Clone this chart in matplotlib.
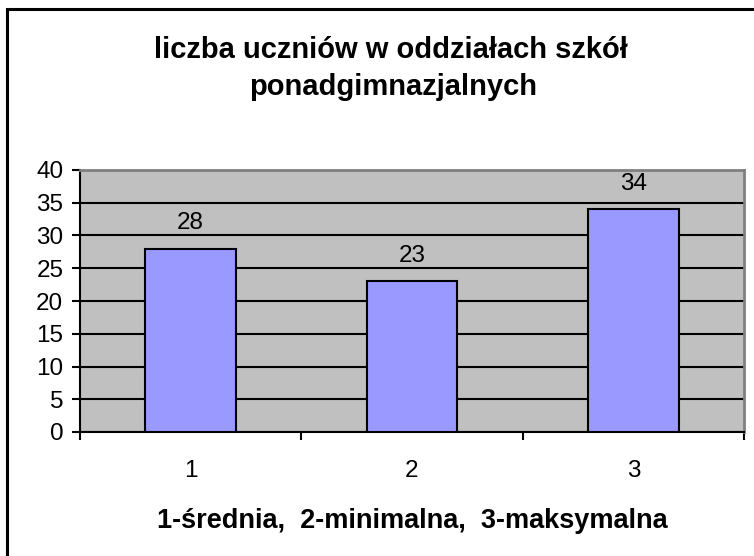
import matplotlib.pyplot as plt
from matplotlib.patches import Rectangle

categories = ['1', '2', '3']
values = [28, 23, 34]
yticks = [0, 5, 10, 15, 20, 25, 30, 35, 40]

plt.rcParams['font.family'] = ['Liberation Sans', 'DejaVu Sans']

fig = plt.figure(figsize=(7.54, 5.56), dpi=100)
ax = fig.add_axes([80/754, 1-432/556, 664/754, 262/556])

x = list(range(1, len(values) + 1))
bars = ax.bar(x, values, width=0.41, color='#9999FF', edgecolor='black', linewidth=1.5, zorder=3)
for xi, v in zip(x, values):
    ax.text(xi, v + 3, str(v), ha='center', va='baseline', fontsize=17.5, zorder=4)

ax.set_facecolor('#C0C0C0')
ax.set_xlim(0.5, 3.5)
ax.set_ylim(0, 40)
ax.set_yticks(yticks)
ax.set_yticklabels([str(t) for t in yticks], fontsize=17.5)
ax.yaxis.grid(True, color='black', linewidth=1.5, zorder=1)
ax.set_axisbelow(True)

# category ticks between bars, labels centred under bars
ax.set_xticks([0.5, 1.5, 2.5, 3.5])
ax.set_xticklabels([])
ax.set_xticks(x, minor=True)
ax.set_xticklabels(categories, minor=True, fontsize=17.5)
ax.tick_params(axis='x', which='minor', length=0, pad=20)
ax.tick_params(axis='x', which='major', direction='out', length=6, width=1.5)
ax.tick_params(axis='y', direction='out', length=6, width=1.5, pad=6)

ax.spines['left'].set_linewidth(1.5)
ax.spines['bottom'].set_linewidth(1.5)
ax.spines['top'].set_color('#808080')
ax.spines['right'].set_color('#808080')
ax.spines['top'].set_linewidth(2)
ax.spines['right'].set_linewidth(2)

ax.set_xlabel('1-średnia,  2-minimalna,  3-maksymalna', fontsize=19.5, fontweight='bold', labelpad=19)

fig.text(391/754, 1-58/556, 'liczba uczniów w oddziałach szkół', ha='center', va='baseline',
         fontsize=21, fontweight='bold')
fig.text(393/754, 1-95/556, 'ponadgimnazjalnych', ha='center', va='baseline',
         fontsize=21, fontweight='bold')

fig.patches.append(Rectangle((7/754, -0.05), 1.0, 1-9/556+0.05, transform=fig.transFigure,
                             fill=False, edgecolor='black', linewidth=2.2))

fig.savefig('out.png', dpi=100)
